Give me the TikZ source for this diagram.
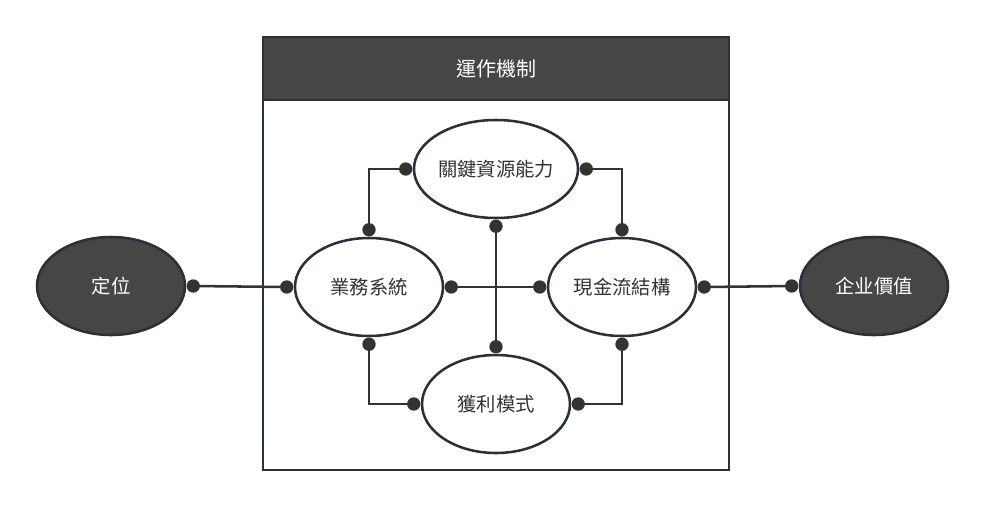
\documentclass[tikz,border=0pt]{standalone}
\usepackage{fontspec}
\setmainfont{Noto Sans CJK TC}
\usetikzlibrary{shapes.geometric,calc}
\definecolor{dk}{HTML}{464646}
\definecolor{ln}{HTML}{333333}
\definecolor{bd}{HTML}{2A3038}
\begin{document}
\begin{tikzpicture}[x=0.75pt,y=-0.75pt,
 ell/.style={ellipse, draw=bd, line width=1.9pt, minimum width=111pt, minimum height=73.5pt, inner sep=0pt, font=\fontsize{14.5}{16}\selectfont},
 lightell/.style={ell, fill=white, text=ln},
 darkell/.style={ell, fill=dk, text=white},
 conn/.style={draw=ln, line width=1.9pt},
 dot/.style={circle, fill=ln, inner sep=0pt, minimum size=10pt}]
\useasboundingbox (0,0) rectangle (985,508);
\fill[white] (0,0) rectangle (985,508);
% frame
\draw[bd, line width=1.7pt] (263,37) rectangle (729,470);
\filldraw[fill=dk, draw=bd, line width=1.7pt] (263,37) rectangle (729,100);
\node[text=white, font=\fontsize{15}{17}\selectfont] (title) at (496,69) {運作機制};
% nodes
\node[darkell] (dw) at (111,286) {定位};
\node[darkell] (qy) at (874,286) {企业價值};
\node[lightell] (yw) at (369,287) {業務系統};
\node[lightell] (xj) at (622,287) {現金流結構};
\node[lightell] (gj) at (496,169) {關鍵資源能力};
\node[lightell] (hl) at (496,404) {獲利模式};
% dot positions
\coordinate (dwE) at ($(dw.east)+(7,0)$);
\coordinate (ywW) at ($(yw.west)+(-7,0)$);
\coordinate (ywE) at ($(yw.east)+(7,0)$);
\coordinate (ywN) at ($(yw.north)+(0,-7)$);
\coordinate (ywS) at ($(yw.south)+(0,7)$);
\coordinate (xjW) at ($(xj.west)+(-7,0)$);
\coordinate (xjE) at ($(xj.east)+(7,0)$);
\coordinate (xjN) at ($(xj.north)+(0,-7)$);
\coordinate (xjS) at ($(xj.south)+(0,7)$);
\coordinate (qyW) at ($(qy.west)+(-7,0)$);
\coordinate (gjW) at ($(gj.west)+(-7,0)$);
\coordinate (gjE) at ($(gj.east)+(7,0)$);
\coordinate (gjS) at ($(gj.south)+(0,7)$);
\coordinate (hlW) at ($(hl.west)+(-7,0)$);
\coordinate (hlE) at ($(hl.east)+(7,0)$);
\coordinate (hlN) at ($(hl.north)+(0,-7)$);
% connectors
\draw[conn] (dwE) -- (ywW);
\draw[conn] (xjE) -- (qyW);
\draw[conn] (ywE) -- (xjW);
\draw[conn] (gjS) -- (hlN);
\draw[conn] (ywN) |- (gjW);
\draw[conn] (gjE) -| (xjN);
\draw[conn] (ywS) |- (hlW);
\draw[conn] (hlE) -| (xjS);
% dots
\foreach \c in {dwE,ywW,ywE,ywN,ywS,xjW,xjE,xjN,xjS,qyW,gjW,gjE,gjS,hlW,hlE,hlN}
  \node[dot] (d\c) at (\c) {};
\end{tikzpicture}
\end{document}
